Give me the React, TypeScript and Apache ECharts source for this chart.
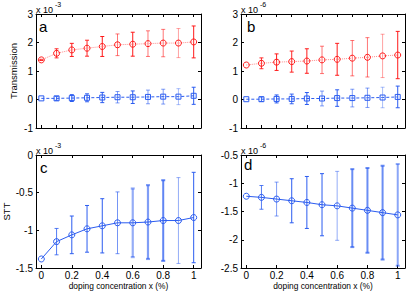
import React, { useEffect, useRef } from "react";
import * as echarts from "echarts";

const xs = [0, 0.1, 0.2, 0.3, 0.4, 0.5, 0.6, 0.7, 0.8, 0.9, 1];

// panel a (x 10^-3)
const aRed = [1.39, 1.62, 1.74, 1.8, 1.86, 1.92, 1.94, 1.96, 1.98, 1.98, 2.02];
const aRedErr = [0.02, 0.16, 0.23, 0.28, 0.35, 0.38, 0.42, 0.45, 0.48, 0.51, 0.56];
const aBlue = [0.04, 0.04, 0.05, 0.06, 0.07, 0.08, 0.08, 0.09, 0.1, 0.1, 0.13];
const aBlueErr = [0, 0.07, 0.12, 0.14, 0.18, 0.2, 0.22, 0.24, 0.26, 0.28, 0.3];

// panel b (x 10^-6)
const bRed = [1.21, 1.27, 1.31, 1.33, 1.35, 1.39, 1.41, 1.45, 1.48, 1.53, 1.56];
const bRedErr = [0, 0.19, 0.29, 0.37, 0.43, 0.48, 0.56, 0.62, 0.69, 0.76, 0.83];
const bBlue = [0.01, 0.01, 0.02, 0.02, 0.035, 0.035, 0.05, 0.05, 0.06, 0.07, 0.09];
const bBlueErr = [0, 0.08, 0.14, 0.17, 0.21, 0.26, 0.29, 0.31, 0.34, 0.36, 0.38];

// panel c (x 10^-3)
const cSTT = [-1.38, -1.15, -1.06, -0.98, -0.94, -0.9, -0.9, -0.89, -0.87, -0.87, -0.83];
const cErr = [0, 0.175, 0.25, 0.31, 0.36, 0.41, 0.455, 0.49, 0.535, 0.57, 0.6];

// panel d (x 10^-6)
const dSTT = [-1.23, -1.25, -1.28, -1.31, -1.34, -1.38, -1.4, -1.44, -1.48, -1.52, -1.56];
const dErr = [0, 0.21, 0.3, 0.39, 0.46, 0.55, 0.61, 0.69, 0.75, 0.83, 0.9];

const xTickLabels = [0, 0.2, 0.4, 0.6, 0.8, 1];
const xTicksTop = [0, 0.1, 0.2, 0.3, 0.4, 0.5, 0.6, 0.7, 0.8, 0.9, 1];
const xTicksBottom = [0, 0.2, 0.4, 0.6, 0.8, 1];

const yA = { min: -1, max: 3, interval: 1 };
const yB = { min: -1, max: 3, interval: 1 };
const yC = { min: -1.5, max: 0, interval: 0.5 };
const yD = { min: -2.5, max: -0.5, interval: 0.5 };

const FONT = "Liberation Sans";
const RED = "#ff1a1a";
const BLUE = "#2b5cf0";

// error bar shade variation (style only)
const shadeA = [1, 0.9, 1, 0.95, 1, 0.6, 1, 0.6, 0.6, 0.4, 1];
const shadeC = [1, 0.8, 1, 1, 1, 0.65, 0.5, 0.6, 0.75, 0.5, 1];
const widthC = [1, 1, 1, 1, 1, 1, 2.2, 2.2, 2, 1, 1];
const shadeD = [1, 0.8, 0.6, 1, 1, 1, 0.5, 0.7, 0.7, 0.7, 0.55];
const widthD = [1, 1, 1, 1, 1, 1, 1, 2, 2, 2, 2];

export default function App() {
  const ref = useRef<HTMLDivElement>(null);
  useEffect(() => {
    const chart = echarts.init(ref.current!, null, { renderer: "svg" });

    const grids = [
      { left: 36, top: 14, width: 165, height: 114 },
      { left: 241, top: 14, width: 164, height: 114 },
      { left: 36, top: 155, width: 165, height: 113 },
      { left: 241, top: 155, width: 164, height: 113 },
    ];
    const yRanges = [yA, yB, yC, yD];
    const xAxis: any[] = [];
    const yAxis: any[] = [];
    grids.forEach((g, i) => {
      const bottomPanel = i >= 2;
      const ticks = bottomPanel ? xTicksBottom : xTicksTop;
      const common = {
        type: "value",
        gridIndex: i,
        min: -0.035,
        max: 1.048,
        splitLine: { show: false },
        axisLine: { show: true, onZero: false, lineStyle: { color: "#000", width: 1 } },
        axisTick: { show: true, inside: true, length: 3, customValues: ticks, lineStyle: { color: "#000" } },
      };
      xAxis.push({
        ...common,
        position: "bottom",
        axisLabel: {
          show: bottomPanel,
          customValues: xTickLabels,
          color: "#000",
          fontFamily: FONT,
          fontSize: 10,
          margin: 2,
        },
        name: bottomPanel ? "doping concentration x (%)" : "",
        nameLocation: "middle",
        nameGap: 14,
        nameTextStyle: { fontFamily: FONT, fontSize: 8.4, color: "#000" },
      });
      xAxis.push({ ...common, position: "top", axisLabel: { show: false } });
      const yr = yRanges[i];
      const yCommon = {
        type: "value",
        gridIndex: i,
        min: yr.min,
        max: yr.max,
        interval: yr.interval,
        splitLine: { show: false },
        axisLine: { show: true, onZero: false, lineStyle: { color: "#000", width: 1 } },
        axisTick: { show: true, inside: true, length: 3, lineStyle: { color: "#000" } },
      };
      const yName = i === 0 ? "Transmission" : i === 2 ? "STT" : "";
      yAxis.push({
        ...yCommon,
        position: "left",
        axisLabel: { color: "#000", fontFamily: FONT, fontSize: 10, margin: 3 },
        name: yName,
        nameLocation: "middle",
        nameGap: 18,
        nameTextStyle: { fontFamily: FONT, fontSize: 9.5, color: "#000" },
      });
      yAxis.push({ ...yCommon, position: "right", axisLabel: { show: false } });
    });

    const errSeries = (
      panel: number,
      vals: number[],
      errs: number[],
      color: string,
      shade: number[],
      widths: number[] | null
    ) => ({
      type: "custom",
      xAxisIndex: panel * 2,
      yAxisIndex: panel * 2,
      z: 1,
      data: xs.map((x, k) => [x, vals[k], errs[k], k]),
      renderItem: (_p: any, api: any) => {
        const x = api.value(0);
        const y = api.value(1);
        const e = api.value(2);
        const k = api.value(3);
        if (!e) return { type: "group", children: [] };
        const t = api.coord([x, y + e]);
        const b = api.coord([x, y - e]);
        const style = {
          stroke: color,
          fill: "none",
          lineWidth: widths ? widths[k] : 1,
          opacity: shade[k],
        };
        const w = 2;
        return {
          type: "group",
          children: [
            { type: "line", shape: { x1: t[0], y1: t[1], x2: b[0], y2: b[1] }, style },
            { type: "line", shape: { x1: t[0] - w, y1: t[1], x2: t[0] + w, y2: t[1] }, style },
            { type: "line", shape: { x1: b[0] - w, y1: b[1], x2: b[0] + w, y2: b[1] }, style },
          ],
        };
      },
    });

    const lineSeries = (
      panel: number,
      vals: number[],
      color: string,
      lineColor: string,
      lineType: any,
      symbol: string,
      size: number
    ) => ({
      type: "line",
      xAxisIndex: panel * 2,
      yAxisIndex: panel * 2,
      z: 3,
      data: xs.map((x, k) => [x, vals[k]]),
      symbol,
      symbolSize: size,
      showSymbol: true,
      showAllSymbol: true,
      itemStyle: { color: "rgba(255,255,255,0)", borderColor: color, borderWidth: 1 },
      lineStyle: { color: lineColor, width: 1, type: lineType },
    });

    const series: any[] = [
      errSeries(0, aRed, aRedErr, RED, shadeA, null),
      errSeries(0, aBlue, aBlueErr, BLUE, shadeA, null),
      lineSeries(0, aRed, RED, "#ff8c8c", "dotted", "circle", 6),
      lineSeries(0, aBlue, BLUE, BLUE, [3, 2], "rect", 5),
      errSeries(1, bRed, bRedErr, RED, shadeA, null),
      errSeries(1, bBlue, bBlueErr, BLUE, shadeA, null),
      lineSeries(1, bRed, RED, "#ff8c8c", "dotted", "circle", 6),
      lineSeries(1, bBlue, BLUE, BLUE, [3, 2], "rect", 5),
      errSeries(2, cSTT, cErr, BLUE, shadeC, widthC),
      lineSeries(2, cSTT, BLUE, BLUE, "solid", "circle", 6),
      errSeries(3, dSTT, dErr, BLUE, shadeD, widthD),
      lineSeries(3, dSTT, BLUE, BLUE, "solid", "circle", 6),
    ];

    const expo = (x: number, y: number, p: string) => [
      { type: "text", left: x, top: y, style: { text: "x 10", fontFamily: FONT, fontSize: 9, fill: "#000" } },
      { type: "text", left: x + 19, top: y - 4, style: { text: p, fontFamily: FONT, fontSize: 7, fill: "#000" } },
    ];
    const letter = (x: number, y: number, t: string) => ({
      type: "text",
      left: x,
      top: y,
      style: { text: t, fontFamily: FONT, fontSize: 15, fill: "#000" },
    });

    chart.setOption({
      animation: false,
      backgroundColor: "#fff",
      grid: grids.map((g) => ({ ...g, containLabel: false })),
      xAxis,
      yAxis,
      series,
      graphic: [
        ...expo(36, 5, "-3"),
        ...expo(241, 5, "-6"),
        ...expo(36, 146, "-3"),
        ...expo(241, 146, "-6"),
        letter(39, 19, "a"),
        letter(247, 19, "b"),
        letter(40, 160, "c"),
        letter(244, 157, "d"),
      ],
    });
    return () => chart.dispose();
  }, []);
  return (
    <div
      ref={ref}
      style={{ position: "fixed", left: 0, top: 0, width: 415, height: 302 }}
    />
  );
}
